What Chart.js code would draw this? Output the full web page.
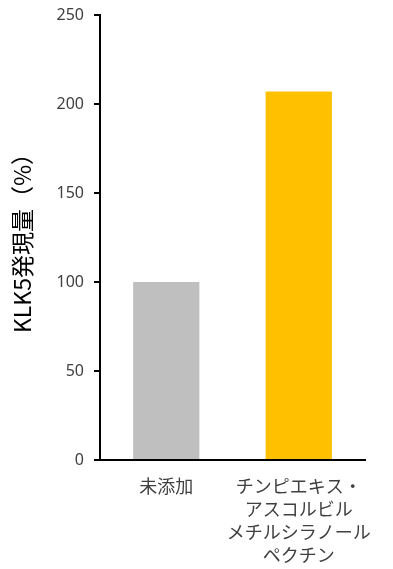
<!DOCTYPE html>
<html>
<head>
<meta charset="utf-8">
<script src="https://cdn.jsdelivr.net/npm/chart.js@4.4.1/dist/chart.umd.min.js"></script>
<style>
  html, body { margin: 0; padding: 0; background: #ffffff; }
  #wrap { width: 393px; height: 569px; position: relative; }
</style>
</head>
<body>
<div id="wrap"><canvas id="c" width="393" height="569"></canvas></div>
<script>
// Sample groups (multi-line labels) and KLK5 expression relative to control
const categories = [
  ['未添加'],
  ['チンピエキス・', 'アスコルビル', 'メチルシラノール', 'ペクチン']
];
const klk5Values = [100, 207];
const barColors = ['#BFBFBF', '#FFC000'];
const yTicks = [0, 50, 100, 150, 200, 250];
const yTitle = 'KLK5発現量（%）';

const textColor = '#404040';
const cjkFont = '"Noto Sans CJK JP", "Noto Sans", sans-serif';
const numFont = '"Noto Sans", "Open Sans", sans-serif';

new Chart(document.getElementById('c'), {
  type: 'bar',
  data: {
    labels: categories,
    datasets: [{
      data: klk5Values,
      backgroundColor: barColors,
      borderWidth: 0,
      categoryPercentage: 0.5,
      barPercentage: 1.0
    }]
  },
  options: {
    responsive: false,
    animation: false,
    devicePixelRatio: 1,
    layout: { padding: { top: 15, right: 28, bottom: 0, left: 0 } },
    plugins: {
      legend: { display: false },
      tooltip: { enabled: false }
    },
    scales: {
      x: {
        grid: { display: true, drawOnChartArea: false, drawTicks: false },
        border: { display: true, color: '#000000', width: 2 },
        ticks: {
          color: textColor,
          font: { family: cjkFont, size: 18, lineHeight: 1.28 },
          padding: 15,
          maxRotation: 0,
          autoSkip: false
        },
        afterFit: (scale) => { scale.height = 109; }
      },
      y: {
        min: 0,
        max: 250,
        afterBuildTicks: (scale) => { scale.ticks = yTicks.map(v => ({ value: v })); },
        grid: { display: true, drawOnChartArea: false, drawTicks: true, tickLength: 6, color: '#000000', lineWidth: 2 },
        border: { display: true, color: '#000000', width: 2 },
        ticks: {
          color: textColor,
          font: { family: numFont, size: 16 },
          padding: 10
        },
        title: {
          display: true,
          text: yTitle,
          color: '#000000',
          font: { family: cjkFont, size: 23 },
          padding: { top: 8, bottom: 0 }
        },
        afterFit: (scale) => {
          scale.width = 100;
          scale.paddingTop = 0;
          scale.paddingBottom = 0;
        }
      }
    }
  }
});
</script>
</body>
</html>
